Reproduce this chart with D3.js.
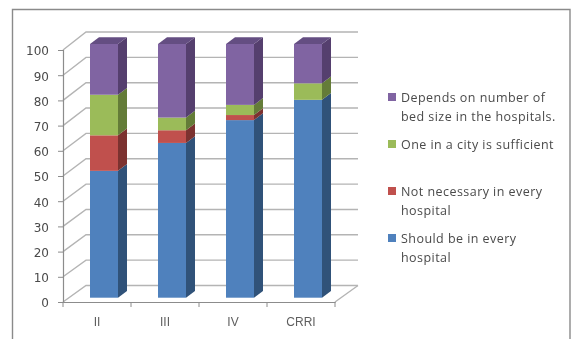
<!DOCTYPE html>
<html>
<head>
<meta charset="utf-8">
<script src="https://cdn.jsdelivr.net/npm/d3@7/dist/d3.min.js"></script>
<style>
html,body{margin:0;padding:0;background:#fff;overflow:hidden}
svg{display:block;font-family:"Open Sans","Noto Sans",sans-serif;filter:blur(0.35px)}
</style>
</head>
<body>
<svg id="chart" width="575" height="339"></svg>
<script>
// Survey responses per student group, in percent, stacked bottom to top.
const categories = ["II", "III", "IV", "CRRI"];
const shouldBe = [50, 61, 70, 78];
const notNecessary = [14, 5, 2, 0];
const oneInCity = [16, 5, 4, 6.5];
const dependsOnBeds = [20, 29, 24, 15.5];
const yTicks = [0, 10, 20, 30, 40, 50, 60, 70, 80, 90, 100];

const seriesNames = ["shouldBe", "notNecessary", "oneInCity", "dependsOnBeds"];
const seriesColors = ["#4f81bd", "#c0504d", "#9bbb59", "#8064a2"];
const sideColors = ["#305279", "#7c3230", "#647c38", "#553f6e"];
const topColors = ["#3d659a", "#96403d", "#7b9646", "#644e82"];

const legendEntries = [
  {color: "#8064a2", lines: ["Depends on number of", "bed size in the hospitals."], y: 98},
  {color: "#9bbb59", lines: ["One in a city is sufficient"], y: 145},
  {color: "#c0504d", lines: ["Not necessary in every", "hospital"], y: 192},
  {color: "#4f81bd", lines: ["Should be in every", "hospital"], y: 239}
];

const svg = d3.select("#chart");

// Oblique projection: the walls sit behind the front plane of the axis.
const axisY = d3.scaleLinear().domain([0, 100]).range([302, 50]);
const wallY = d3.scaleLinear().domain([0, 100]).range([285.5, 32]);
const barY = d3.scaleLinear().domain([0, 100]).range([297.7, 44]);
const axisX = d3.scaleBand().domain(categories).range([63, 335]);
const barX = d3.scaleBand().domain(categories).range([70, 342]).paddingInner(40 / 68).paddingOuter(20 / 68);
const wallDx = 23, barDx = 9, barDy = -6.8;
const gridColor = "#b4b4b4", axisColor = "#8c8c8c", textColor = "#4a4a4a";

// Outer frame of the chart area.
svg.append("path")
  .attr("d", "M12.5,339V9.5H570V339")
  .attr("fill", "none")
  .attr("stroke", "#8a8a8a")
  .attr("stroke-width", 1.4);

// Back wall gridlines and the side wall / floor diagonals.
const grid = svg.append("g").attr("fill", "none").attr("stroke", gridColor).attr("stroke-width", 1.4);
grid.selectAll("path.rung").data(yTicks).join("path")
  .attr("class", "rung")
  .attr("d", d => `M63,${axisY(d)}L${63 + wallDx},${wallY(d)}H${335 + wallDx}`);
grid.append("path")
  .attr("d", `M335,${axisY(0)}L${335 + wallDx},${wallY(0)}`);

// Value axis and category axis on the front plane.
const yAxis = svg.append("g")
  .attr("transform", "translate(63,0)")
  .call(d3.axisLeft(axisY).tickValues(yTicks).tickSize(5).tickPadding(9).tickFormat(d3.format("d")));
yAxis.select(".domain").attr("stroke", axisColor).attr("stroke-width", 1.2);
yAxis.selectAll(".tick line").attr("stroke", axisColor);
yAxis.selectAll("text").attr("fill", textColor).attr("font-size", 12).attr("font-family", "DejaVu Sans").attr("y", 1);

const xAxis = svg.append("g")
  .attr("transform", `translate(0,${axisY(0)})`)
  .call(d3.axisBottom(axisX).tickSize(0).tickPadding(15));
xAxis.select(".domain").attr("stroke", axisColor).attr("stroke-width", 1.2);
xAxis.selectAll("text").attr("fill", "#5e5e5e").attr("font-size", 12);
xAxis.selectAll("line.sep").data(d3.range(categories.length + 1)).join("line")
  .attr("class", "sep")
  .attr("x1", i => 63 + i * axisX.step())
  .attr("x2", i => 63 + i * axisX.step())
  .attr("y1", 0).attr("y2", 5)
  .attr("stroke", axisColor);

// Stacked columns: each segment has a front, a side and, on top, a cap.
const table = categories.map((c, i) => ({
  category: c,
  shouldBe: shouldBe[i],
  notNecessary: notNecessary[i],
  oneInCity: oneInCity[i],
  dependsOnBeds: dependsOnBeds[i]
}));
const stacked = d3.stack().keys(seriesNames)(table);
const bw = barX.bandwidth();

stacked.forEach((layer, s) => {
  const g = svg.append("g");
  layer.forEach(d => {
    if (d[1] - d[0] <= 0) return;
    const x = barX(d.data.category), y0 = barY(d[0]), y1 = barY(d[1]);
    g.append("path")
      .attr("d", `M${x + bw},${y0}L${x + bw + barDx},${y0 + barDy}V${y1 + barDy}L${x + bw},${y1}Z`)
      .attr("fill", sideColors[s]);
    g.append("rect")
      .attr("x", x).attr("y", y1).attr("width", bw).attr("height", y0 - y1)
      .attr("fill", seriesColors[s]);
    if (s === stacked.length - 1) {
      g.append("path")
        .attr("d", `M${x},${y1}L${x + barDx},${y1 + barDy}H${x + bw + barDx}L${x + bw},${y1}Z`)
        .attr("fill", topColors[s]);
    }
  });
});

// Legend, listed top to bottom in reverse stacking order.
const legend = svg.selectAll("g.entry").data(legendEntries).join("g").attr("class", "entry");
legend.append("rect")
  .attr("x", 388).attr("y", d => d.y - 5)
  .attr("width", 8).attr("height", 8)
  .attr("fill", d => d.color);
legend.each(function (d) {
  d3.select(this).selectAll("text").data(d.lines).join("text")
    .attr("x", 401)
    .attr("y", (t, i) => d.y + 4 + i * 19)
    .attr("font-size", 12.5)
    .attr("letter-spacing", 0.45)
    .attr("fill", textColor)
    .text(t => t);
});
</script>
</body>
</html>
